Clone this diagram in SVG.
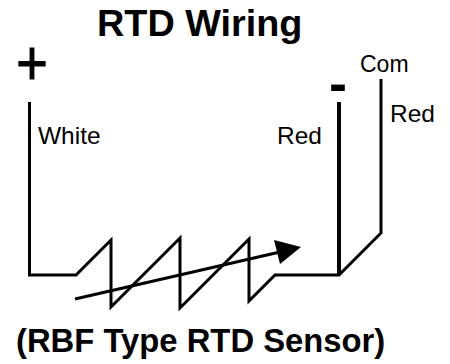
<svg xmlns="http://www.w3.org/2000/svg" width="450" height="364" viewBox="0 0 450 364">
<style>
text{font-family:"Liberation Sans",Arial,Helvetica,sans-serif;fill:#000}
.b{font-weight:bold}
.w{fill:none;stroke:#000;stroke-width:3;stroke-linejoin:miter}
.l{font-size:24.5px}
</style>
<rect width="450" height="364" fill="#fff"/>
<g id="title"><text class="b" x="97" y="36" font-size="37.8">RTD Wiring</text></g>
<g id="plus"><text transform="translate(16.2 85) scale(1 1.15)" font-size="54" stroke="#000" stroke-width="1">+</text></g>
<g id="minus"><text class="b" x="329" y="102" font-size="54">-</text></g>
<g id="white-label"><text class="l" x="38" y="144">White</text></g>
<g id="red-label-1"><text class="l" x="277" y="144">Red</text></g>
<g id="red-label-2"><text class="l" x="390" y="122">Red</text></g>
<g id="com-label"><text x="360" y="72" font-size="23">Com</text></g>
<g id="caption"><text class="b" x="16" y="352" font-size="32.8">(RBF Type RTD Sensor)</text></g>
<g id="connectors">
<path class="w" d="M29.5 102V275H76L111 240V307L180 238V308L249 239V301L275 275H339L381 233V79"/>
<path class="w" style="stroke-width:4" d="M339 102V275"/>
<path class="w" d="M75 299L280 252"/>
<path d="M301 247L274 240L280 264Z" fill="#000"/>
</g>
</svg>
